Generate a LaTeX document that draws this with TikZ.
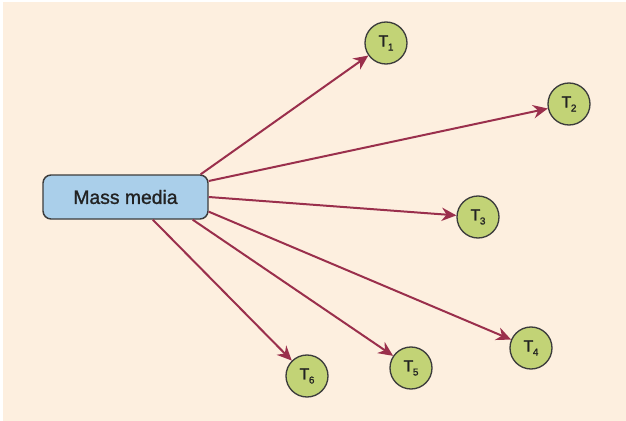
\documentclass[tikz,border=0pt]{standalone}
\usepackage{fontspec}
\setmainfont{Liberation Sans}
\newfontfamily\labelfont[FakeBold=1.2]{Liberation Sans}
\usetikzlibrary{arrows.meta,calc}
\definecolor{paper}{HTML}{FDEFDF}
\definecolor{boxfill}{HTML}{AACFEA}
\definecolor{topicfill}{HTML}{C2D376}
\definecolor{edge}{HTML}{3C3C3C}
\definecolor{arrowred}{HTML}{9A2F4C}
\definecolor{ink}{HTML}{222222}
\tikzset{
  media/.style={draw=edge, line width=1.1pt, fill=boxfill, rounded corners=6pt,
    minimum width=123.75pt, minimum height=33pt, inner sep=0pt, text=ink,
    font=\labelfont\fontsize{14.5}{16}\selectfont},
  topic/.style={circle, draw=edge, line width=1pt, fill=topicfill, text=ink,
    minimum size=31.5pt, inner sep=0pt, font=\labelfont\fontsize{12}{12}\selectfont},
  link/.style={draw=arrowred, line width=1.5pt,
    -{Stealth[length=11pt,width=10pt]}}
}
\newcommand{\topiclabel}[1]{T\kern-0.3pt\raisebox{-3pt}{\fontsize{7.5}{8}\selectfont #1}}
\begin{document}
\begin{tikzpicture}[x=0.75pt,y=-0.75pt]
  % page and panel
  \useasboundingbox (0,0) rectangle (626,421);
  \fill[white] (0,0) rectangle (626,421);
  \fill[paper] (3,2) rectangle (626,421);

  % source and topics
  \node[media] (mm) at (125.5,197) {Mass media};
  \node[topic] (t1) at (386,43)  {\topiclabel{1}};
  \node[topic] (t2) at (569,104) {\topiclabel{2}};
  \node[topic] (t3) at (478,217) {\topiclabel{3}};
  \node[topic] (t4) at (531,348) {\topiclabel{4}};
  \node[topic] (t5) at (411,368) {\topiclabel{5}};
  \node[topic] (t6) at (307,376) {\topiclabel{6}};

  % links from the box to each topic
  \draw[link] ([xshift=-6pt]mm.north east) -- (t1);
  \draw[link] ([yshift=12pt]mm.east) -- (t2);
  \draw[link] (mm.east) -- (t3);
  \draw[link] ([yshift=-11pt]mm.east) -- (t4);
  \draw[link] ([xshift=-12pt]mm.south east) -- (t5);
  \draw[link] ([xshift=20.5pt]mm.south) -- (t6);
\end{tikzpicture}
\end{document}
